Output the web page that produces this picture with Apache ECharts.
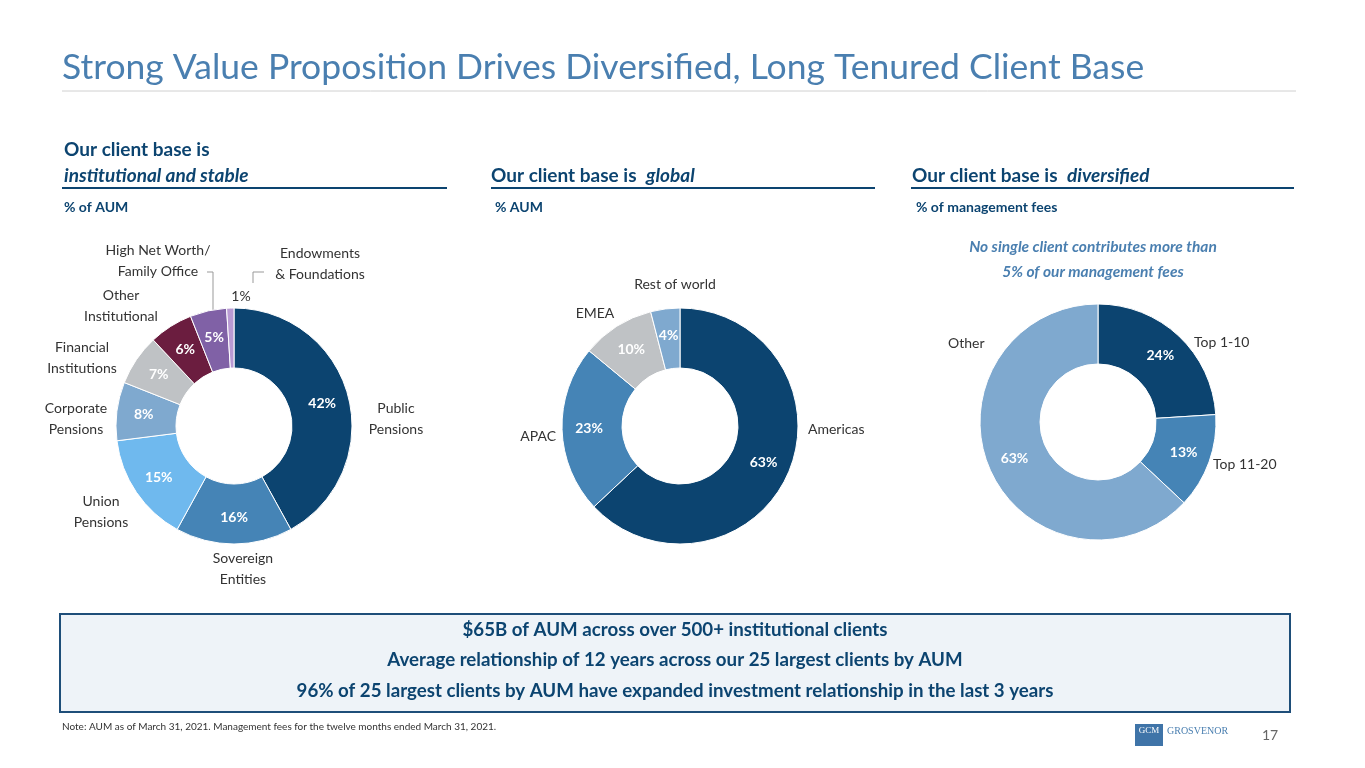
<!DOCTYPE html>
<html><head><meta charset="utf-8">
<script src="https://cdn.jsdelivr.net/npm/echarts@6/dist/echarts.min.js"></script>
<style>html,body{margin:0;background:#fff}#c{width:1365px;height:768px}</style>
</head><body><div id="c"></div>
<script>
const clientTypes = ["Public Pensions", "Sovereign Entities", "Union Pensions", "Corporate Pensions",
  "Financial Institutions", "Other Institutional", "High Net Worth/ Family Office", "Endowments & Foundations"];
const clientTypeValues = [42, 16, 15, 8, 7, 6, 5, 1];
const clientTypeColors = ["#0c4470", "#4584b6", "#6fb9ee", "#7fa9cf", "#bfc2c5", "#6b1d3f", "#8061a6", "#b99ad3"];

const regions = ["Americas", "APAC", "EMEA", "Rest of world"];
const regionValues = [63, 23, 10, 4];
const regionColors = ["#0c4470", "#4584b6", "#bfc2c5", "#7fa9cf"];

const feeGroups = ["Top 1-10", "Top 11-20", "Other"];
const feeValues = [24, 13, 63];
const feeColors = ["#0c4470", "#4584b6", "#7fa9cf"];

const FONT = "Lato, 'Open Sans', sans-serif";
const NAVY = "#0c4470";

function donut(names, values, colors, center, hideBelow) {
  return {
    type: "pie",
    center: center,
    radius: [58, 118],
    startAngle: 90,
    clockwise: true,
    silent: true,
    data: names.map((n, i) => ({
      name: n, value: values[i], itemStyle: { color: colors[i] },
      label: { show: values[i] >= hideBelow }
    })),
    itemStyle: { borderColor: "#fff", borderWidth: 1 },
    label: {
      position: "inside", formatter: "{c}%", color: "#fff",
      fontFamily: FONT, fontWeight: "bold", fontSize: 14
    },
    labelLine: { show: false }
  };
}

function t(x, y, text, align, style) {
  return {
    type: "text", x: x, y: y,
    style: Object.assign({ text: text, fontFamily: FONT, fontSize: 14, fill: "#333",
      lineHeight: 21, align: align || "left", verticalAlign: "middle" }, style)
  };
}
function hline(x1, x2, y, color, w) {
  return { type: "line", shape: { x1: x1, y1: y, x2: x2, y2: y }, style: { stroke: color, lineWidth: w } };
}

const chart = echarts.init(document.getElementById("c"));
chart.setOption({
  animation: false,
  series: [
    donut(clientTypes, clientTypeValues, clientTypeColors, [234, 426], 2),
    donut(regions, regionValues, regionColors, [680, 426], 0),
    donut(feeGroups, feeValues, feeColors, [1098, 422], 0)
  ],
  graphic: [
    t(62, 68, "Strong Value Proposition Drives Diversified, Long Tenured Client Base", "left",
      { fontSize: 35.5, fill: "#4a7fb0" }),
    hline(62, 1296, 91, "#d0d0d0", 1),
    t(64, 150, "Our client base is", "left", { fontSize: 19, fontWeight: "bold", fill: NAVY }),
    t(64, 176, "institutional and stable", "left", { fontSize: 19, fontWeight: "bold", fontStyle: "italic", fill: NAVY }),
    t(491, 176, "Our client base is", "left", { fontSize: 19, fontWeight: "bold", fill: NAVY }),
    t(646, 176, "global", "left", { fontSize: 19, fontWeight: "bold", fontStyle: "italic", fill: NAVY }),
    t(912, 176, "Our client base is", "left", { fontSize: 19, fontWeight: "bold", fill: NAVY }),
    t(1067, 176, "diversified", "left", { fontSize: 19, fontWeight: "bold", fontStyle: "italic", fill: NAVY }),
    hline(62, 447, 188, NAVY, 2),
    hline(491, 875, 188, NAVY, 2),
    hline(911, 1294, 188, NAVY, 2),
    t(64, 207, "% of AUM", "left", { fontSize: 14, fontWeight: "bold", fill: NAVY }),
    t(495, 207, "% AUM", "left", { fontSize: 14, fontWeight: "bold", fill: NAVY }),
    t(916, 207, "% of management fees", "left", { fontSize: 14, fontWeight: "bold", fill: NAVY }),

    t(396, 419, "Public\nPensions", "center"),
    t(243, 569, "Sovereign\nEntities", "center"),
    t(101, 512, "Union\nPensions", "center"),
    t(76, 419, "Corporate\nPensions", "center"),
    t(82, 358, "Financial\nInstitutions", "center"),
    t(121, 306, "Other\nInstitutional", "center"),
    t(158, 261, "High Net Worth/\nFamily Office", "center"),
    t(320, 264, "Endowments\n& Foundations", "center"),
    t(241, 296, "1%", "center"),
    { type: "polyline", shape: { points: [[207, 272], [213, 272], [213, 310]] }, style: { stroke: "#999", fill: null, lineWidth: 1 } },
    { type: "polyline", shape: { points: [[264, 272], [253, 272], [253, 283]] }, style: { stroke: "#999", fill: null, lineWidth: 1 } },

    t(808, 429, "Americas", "left"),
    t(556, 436, "APAC", "right"),
    t(595, 313, "EMEA", "center"),
    t(675, 284, "Rest of world", "center"),

    t(1093, 247, "No single client contributes more than", "center", { fontWeight: "bold", fontStyle: "italic", fill: "#4a7fb0", fontSize: 15.5 }),
    t(1093, 272, "5% of our management fees", "center", { fontWeight: "bold", fontStyle: "italic", fill: "#4a7fb0", fontSize: 15.5 }),
    t(1194, 342, "Top 1-10", "left"),
    t(1213, 464, "Top 11-20", "left"),
    t(948, 343, "Other", "left"),

    { type: "rect", shape: { x: 60, y: 614, width: 1230, height: 98 }, style: { fill: "#eef3f8", stroke: "#1e4e79", lineWidth: 2 } },
    t(675, 630, "$65B of AUM across over 500+ institutional clients", "center", { fontSize: 18.7, fontWeight: "bold", fill: NAVY }),
    t(675, 660, "Average relationship of 12 years across our 25 largest clients by AUM", "center", { fontSize: 18.7, fontWeight: "bold", fill: NAVY }),
    t(675, 691, "96% of 25 largest clients by AUM have expanded investment relationship in the last 3 years", "center", { fontSize: 18.7, fontWeight: "bold", fill: NAVY }),

    t(62, 727, "Note: AUM as of March 31, 2021. Management fees for the twelve months ended March 31, 2021.", "left", { fontSize: 10, fill: "#333" }),
    { type: "rect", shape: { x: 1135, y: 724, width: 28, height: 22 }, style: { fill: "#3f74a8" } },
    t(1149, 731, "GCM", "center", { fontSize: 9, fill: "#fff", fontFamily: "Liberation Serif" }),
    t(1167, 731, "GROSVENOR", "left", { fontSize: 10, fill: "#4a7fb0", fontFamily: "Liberation Serif" }),
    t(1270, 735, "17", "center", { fontSize: 14, fill: "#666" })
  ]
});
</script></body></html>
